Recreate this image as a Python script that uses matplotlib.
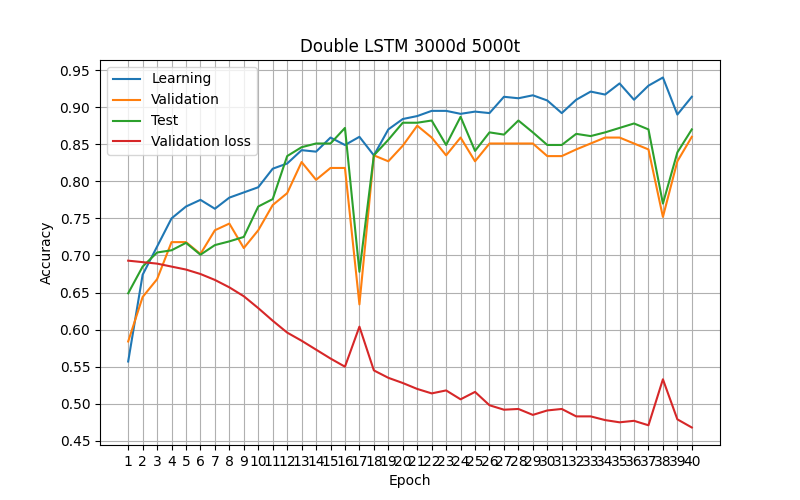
import numpy as np
import matplotlib
matplotlib.use("Agg")
import matplotlib.pyplot as plt
from matplotlib.ticker import MultipleLocator, FormatStrFormatter


epochs = list(range(1, 41))

learning = [
    0.557, 0.674, 0.712, 0.750, 0.766, 0.775, 0.763, 0.778, 0.785, 0.792,
    0.817, 0.824, 0.842, 0.840, 0.859, 0.849, 0.860, 0.835, 0.870, 0.884,
    0.888, 0.895, 0.895, 0.891, 0.894, 0.892, 0.914, 0.912, 0.916, 0.909,
    0.892, 0.910, 0.921, 0.917, 0.932, 0.910, 0.929, 0.940, 0.890, 0.914,
]

validation = [
    0.584, 0.644, 0.668, 0.718, 0.718, 0.702, 0.734, 0.743, 0.710, 0.734,
    0.768, 0.784, 0.826, 0.802, 0.818, 0.818, 0.634, 0.835, 0.827, 0.848,
    0.875, 0.859, 0.835, 0.859, 0.827, 0.851, 0.851, 0.851, 0.851, 0.834,
    0.834, 0.843, 0.851, 0.859, 0.859, 0.851, 0.843, 0.752, 0.827, 0.860,
]

test = [
    0.649, 0.685, 0.704, 0.707, 0.717, 0.701, 0.714, 0.719, 0.725, 0.766,
    0.776, 0.834, 0.846, 0.851, 0.851, 0.872, 0.678, 0.835, 0.856, 0.879,
    0.879, 0.882, 0.849, 0.887, 0.841, 0.866, 0.863, 0.882, 0.866, 0.849,
    0.849, 0.864, 0.861, 0.866, 0.872, 0.878, 0.870, 0.770, 0.839, 0.870,
]

val_loss = [
    0.693, 0.691, 0.689, 0.685, 0.681, 0.675, 0.667, 0.657, 0.645, 0.629,
    0.612, 0.596, 0.585, 0.573, 0.561, 0.550, 0.604, 0.545, 0.535, 0.528,
    0.520, 0.514, 0.518, 0.506, 0.516, 0.498, 0.492, 0.493, 0.485, 0.491,
    0.493, 0.483, 0.483, 0.478, 0.475, 0.477, 0.471, 0.533, 0.479, 0.468,
]


plt.figure(figsize=(8, 5))

plt.plot(epochs, learning, label="Learning")
plt.plot(epochs, validation, label="Validation")
plt.plot(epochs, test, label="Test")
plt.plot(epochs, val_loss, label="Validation loss")

ax = plt.gca()
ax.yaxis.set_major_locator(MultipleLocator(0.05))
ax.yaxis.set_major_formatter(FormatStrFormatter("%.2f"))

plt.xticks(epochs)
plt.xlabel("Epoch")
plt.ylabel("Accuracy")
plt.title("Double LSTM 3000d 5000t")
plt.grid(True)
plt.legend(loc="upper left")

plt.savefig("out.png", dpi=100)
plt.close()
